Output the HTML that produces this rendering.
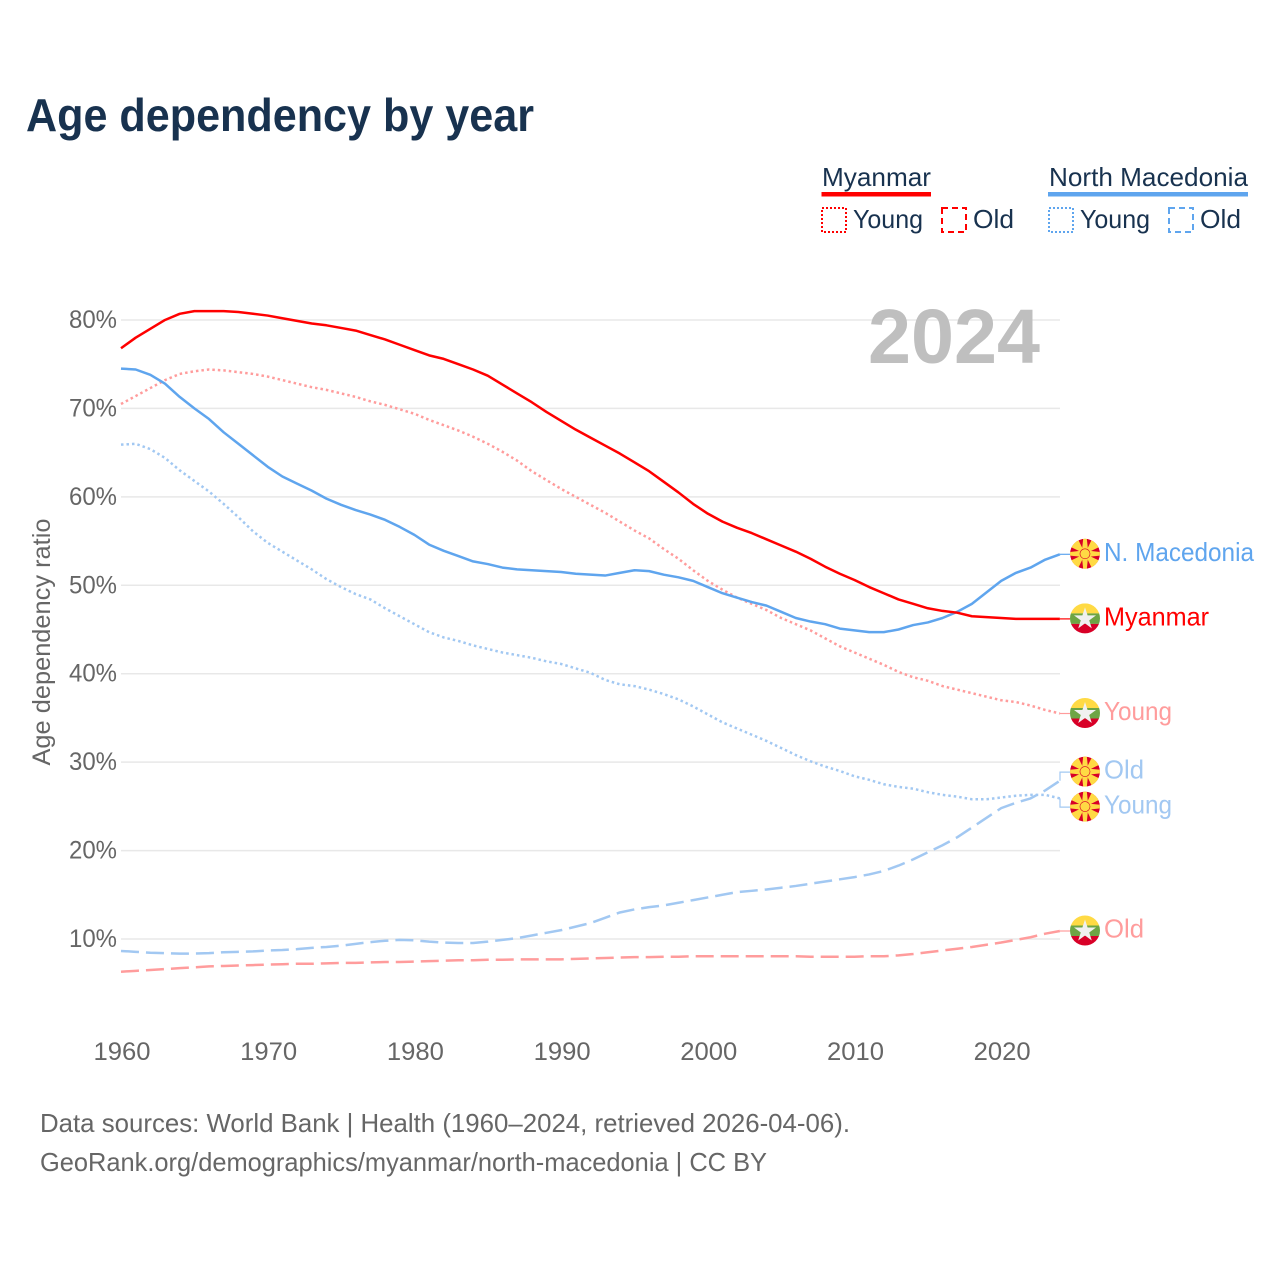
<!DOCTYPE html>
<html lang="en">
<head>
<meta charset="utf-8">
<title>Age dependency by year</title>
<style>
html,body{margin:0;padding:0;background:#fff;width:1280px;height:1280px;overflow:hidden}
svg{display:block;font-family:"Liberation Sans",sans-serif}
</style>
</head>
<body>
<svg id="chart" width="1280" height="1280" viewBox="0 0 1280 1280" xmlns="http://www.w3.org/2000/svg">
  <defs>
    <clipPath id="flag-clip"><circle cx="0" cy="0" r="15"/></clipPath>
  </defs>
  <text x="26" y="131" font-size="46" font-weight="700" fill="#18324f" textLength="508" lengthAdjust="spacingAndGlyphs">Age dependency by year</text>

  <g font-size="26" fill="#18324f">
    <g>
      <text x="822" y="186" textLength="109" lengthAdjust="spacingAndGlyphs">Myanmar</text>
      <rect x="821.5" y="192" width="109.5" height="4.5" fill="#ff0000"/>
      <rect x="822" y="208" width="24" height="24" fill="none" stroke="#ff0000" stroke-width="2" stroke-dasharray="2 2"/>
      <text x="853" y="228" textLength="70" lengthAdjust="spacingAndGlyphs">Young</text>
      <rect x="942" y="208" width="24" height="24" fill="none" stroke="#ff0000" stroke-width="2" stroke-dasharray="6 4"/>
      <text x="973" y="228" textLength="41" lengthAdjust="spacingAndGlyphs">Old</text>
    </g>
    <g>
      <text x="1049" y="186" textLength="199" lengthAdjust="spacingAndGlyphs">North Macedonia</text>
      <rect x="1048" y="192" width="200" height="4.5" fill="#5fa5ee"/>
      <rect x="1049" y="208" width="24" height="24" fill="none" stroke="#5fa5ee" stroke-width="2" stroke-dasharray="2 2"/>
      <text x="1080" y="228" textLength="70" lengthAdjust="spacingAndGlyphs">Young</text>
      <rect x="1169" y="208" width="24" height="24" fill="none" stroke="#5fa5ee" stroke-width="2" stroke-dasharray="6 4"/>
      <text x="1200" y="228" textLength="41" lengthAdjust="spacingAndGlyphs">Old</text>
    </g>
  </g>

  <g id="grid"></g>
  <g id="yticks" font-size="25" fill="#666"></g>
  <g id="xticks" font-size="25" fill="#666"></g>
  <text transform="translate(50,642) rotate(-90)" text-anchor="middle" font-size="25" fill="#666" textLength="247" lengthAdjust="spacingAndGlyphs">Age dependency ratio</text>
  <text x="868" y="363" font-size="77" font-weight="700" fill="#bfbfbf" textLength="172" lengthAdjust="spacingAndGlyphs">2024</text>
  <g id="series"></g>
  <g id="labels" font-size="26"></g>

  <text x="40" y="1132" font-size="26" fill="#666" textLength="810" lengthAdjust="spacingAndGlyphs">Data sources: World Bank | Health (1960–2024, retrieved 2026-04-06).</text>
  <text x="40" y="1171" font-size="26" fill="#666" textLength="727" lengthAdjust="spacingAndGlyphs">GeoRank.org/demographics/myanmar/north-macedonia | CC BY</text>
</svg>
<script>
const startYear = 1960;
const xTickYears = [1960, 1970, 1980, 1990, 2000, 2010, 2020];
const yTickValues = [10, 20, 30, 40, 50, 60, 70, 80];

const myanmarTotal = [76.8,78,79,80,80.7,81,81,81,80.9,80.7,80.5,80.2,79.9,79.6,79.4,79.1,78.8,78.3,77.8,77.2,76.6,76,75.6,75,74.4,73.7,72.7,71.7,70.7,69.6,68.6,67.6,66.7,65.8,64.9,63.9,62.9,61.7,60.5,59.2,58.1,57.2,56.5,55.9,55.2,54.5,53.8,53,52.1,51.3,50.6,49.8,49.1,48.4,47.9,47.4,47.1,46.9,46.5,46.4,46.3,46.2,46.2,46.2,46.2];
const myanmarYoung = [70.5,71.4,72.3,73.2,73.9,74.2,74.4,74.3,74.1,73.9,73.6,73.2,72.8,72.4,72.1,71.7,71.3,70.8,70.4,69.9,69.4,68.7,68.1,67.5,66.8,66,65.1,64.1,62.9,61.9,60.9,60,59.1,58.2,57.2,56.2,55.3,54.1,53,51.7,50.5,49.5,48.6,47.9,47.2,46.3,45.6,44.9,44,43.1,42.4,41.7,41,40.2,39.6,39.2,38.6,38.2,37.8,37.4,37,36.8,36.4,35.9,35.5];
const myanmarOld = [6.3,6.4,6.5,6.6,6.7,6.8,6.9,6.95,7,7.05,7.1,7.15,7.2,7.2,7.25,7.3,7.3,7.35,7.4,7.4,7.45,7.5,7.55,7.6,7.6,7.65,7.65,7.7,7.7,7.7,7.7,7.75,7.8,7.85,7.9,7.95,7.95,8,8,8.05,8.05,8.05,8.05,8.05,8.05,8.05,8.05,8,8,8,8,8.05,8.05,8.15,8.3,8.5,8.7,8.9,9.1,9.35,9.6,9.9,10.2,10.6,10.9];
const macedoniaTotal = [74.5,74.4,73.8,72.8,71.3,70,68.8,67.3,66,64.7,63.4,62.3,61.5,60.7,59.8,59.1,58.5,58,57.4,56.6,55.7,54.6,53.9,53.3,52.7,52.4,52,51.8,51.7,51.6,51.5,51.3,51.2,51.1,51.4,51.7,51.6,51.2,50.9,50.5,49.8,49.1,48.6,48.1,47.7,47,46.3,45.9,45.6,45.1,44.9,44.7,44.7,45,45.5,45.8,46.3,47,47.9,49.2,50.5,51.4,52,52.9,53.5];
const macedoniaYoung = [65.9,66,65.4,64.4,63,61.8,60.6,59.2,57.7,56.1,54.8,53.8,52.8,51.8,50.7,49.8,49,48.4,47.4,46.5,45.6,44.7,44.1,43.7,43.2,42.8,42.4,42.1,41.8,41.4,41.1,40.6,40.1,39.3,38.8,38.6,38.2,37.7,37.1,36.3,35.4,34.5,33.8,33.1,32.4,31.6,30.8,30.1,29.5,29,28.4,28,27.5,27.2,27,26.6,26.3,26.1,25.8,25.8,26,26.2,26.3,26.3,25.9];
const macedoniaOld = [8.65,8.55,8.45,8.4,8.35,8.35,8.4,8.5,8.55,8.6,8.7,8.75,8.85,9,9.1,9.25,9.45,9.65,9.8,9.9,9.85,9.7,9.6,9.55,9.55,9.7,9.9,10.1,10.4,10.7,11,11.4,11.8,12.4,13,13.35,13.6,13.8,14.1,14.4,14.7,15,15.3,15.45,15.6,15.8,16,16.25,16.5,16.75,17,17.3,17.7,18.3,19,19.8,20.6,21.5,22.6,23.7,24.8,25.4,25.9,26.8,27.9];

const xAt = year => 121 + (year - 1960) * 14.67;
const yAt = value => 939 - (value - 10) * 8.843;
const NS = 'http://www.w3.org/2000/svg';
function make(tag, parent, attrs) {
  const el = document.createElementNS(NS, tag);
  Object.keys(attrs).forEach(k => el.setAttribute(k, attrs[k]));
  parent.appendChild(el);
  return el;
}
const grid = document.getElementById('grid');
const yticks = document.getElementById('yticks');
const xticks = document.getElementById('xticks');
const seriesLayer = document.getElementById('series');
const labelLayer = document.getElementById('labels');

yTickValues.forEach(v => {
  const line = make('line', grid, {x1: 121, x2: 1060, y1: yAt(v), y2: yAt(v), stroke: '#e8e8e8', 'stroke-width': 1.5});
  
  
  const t = make('text', yticks, {x: 117, y: yAt(v) + 8, 'text-anchor': 'end', textLength: 48, lengthAdjust: 'spacingAndGlyphs'});
  
  
  t.textContent = v + '%';
});
xTickYears.forEach(year => {
  const t = make('text', xticks, {x: xAt(year) + 1, y: 1060, 'text-anchor': 'middle', textLength: 57, lengthAdjust: 'spacingAndGlyphs'});
  
  
  t.textContent = year;
});

const seriesList = [
  {key: 'myanmar-old', values: myanmarOld, color: '#ff9c9c', dash: '18 7', label: 'Old', flag: 'mm'},
  {key: 'macedonia-old', values: macedoniaOld, color: '#a2c8f2', dash: '18 7', label: 'Old', flag: 'mk'},
  {key: 'myanmar-young', values: myanmarYoung, color: '#ff9c9c', dash: '2.5 3', label: 'Young', flag: 'mm'},
  {key: 'macedonia-young', values: macedoniaYoung, color: '#a2c8f2', dash: '2.5 3', label: 'Young', flag: 'mk'},
  {key: 'macedonia-total', values: macedoniaTotal, color: '#5fa5ee', dash: '', label: 'N. Macedonia', flag: 'mk'},
  {key: 'myanmar-total', values: myanmarTotal, color: '#ff0000', dash: '', label: 'Myanmar', flag: 'mm'}
];

seriesList.forEach(s => {
  const d = s.values.map((v, i) => (i ? 'L' : 'M') + xAt(startYear + i).toFixed(2) + ' ' + yAt(v).toFixed(2)).join(' ');
  const path = make('path', seriesLayer, {d: d, fill: 'none', stroke: s.color, 'stroke-width': 2.5, 'stroke-linejoin': 'round'});
  if (s.dash) path.setAttribute('stroke-dasharray', s.dash);
  
  
});

/* Place end labels, pushing apart any that would overlap. */
const placed = seriesList.map(s => {
  const endY = yAt(s.values[s.values.length - 1]);
  return {s: s, endY: endY, y: endY};
}).sort((a, b) => a.endY - b.endY);
const minGap = 35;
for (let pass = 0; pass < 20; pass++) {
  for (let i = 1; i < placed.length; i++) {
    const overlap = minGap - (placed[i].y - placed[i - 1].y);
    if (overlap > 0) {
      placed[i - 1].y -= overlap / 2;
      placed[i].y += overlap / 2;
    }
  }
}

function drawFlag(group, kind) {
  const clip = make('g', group, {'clip-path': 'url(#flag-clip)'});
  if (kind === 'mk') {
    make('circle', clip, {r: 15, fill: '#d80027'});
    for (let a = 0; a < 360; a += 45) {
      const diagonal = a % 90 !== 0;
      const pts = diagonal ? '-1.5,-4 1.5,-4 6,-17 -6,-17' : '-3,-4 3,-4 1.6,-17 -1.6,-17';
      make('polygon', clip, {points: pts, fill: '#ffda44', transform: 'rotate(' + a + ')'});
    }
    make('circle', clip, {r: 5, fill: '#ffda44', stroke: '#d80027', 'stroke-width': 0.6});
  } else {
    make('rect', clip, {x: -15, y: -15, width: 30, height: 10, fill: '#ffda44'});
    make('rect', clip, {x: -15, y: -5, width: 30, height: 10.5, fill: '#6da544'});
    make('rect', clip, {x: -15, y: 5.5, width: 30, height: 10, fill: '#d80027'});
    make('polygon', clip, {points: '0,-11 2.6,-3 11,-3 4.2,2 6.8,10 0,5 -6.8,10 -4.2,2 -11,-3 -2.6,-3', fill: '#f0f0f0'});
  }
}

placed.forEach(p => {
  const s = p.s;
  const conn = make('polyline', labelLayer, {
    points: '1060,' + p.endY.toFixed(1) + ' 1060,' + p.y.toFixed(1) + ' 1070,' + p.y.toFixed(1),
    fill: 'none', stroke: s.color, 'stroke-width': 1.2
  });
  
  
  const flag = make('g', labelLayer, {transform: 'translate(1085,' + (p.y - 0.5).toFixed(1) + ')'});
  
  
  drawFlag(flag, s.flag);
  const t = make('text', labelLayer, {x: 1104, y: (p.y + 6.5).toFixed(1), fill: s.color, textLength: s.label === 'N. Macedonia' ? 150 : s.label === 'Myanmar' ? 105 : s.label === 'Young' ? 68 : 40, lengthAdjust: 'spacingAndGlyphs'});
  
  
  t.textContent = s.label;
});
</script>
</body>
</html>
